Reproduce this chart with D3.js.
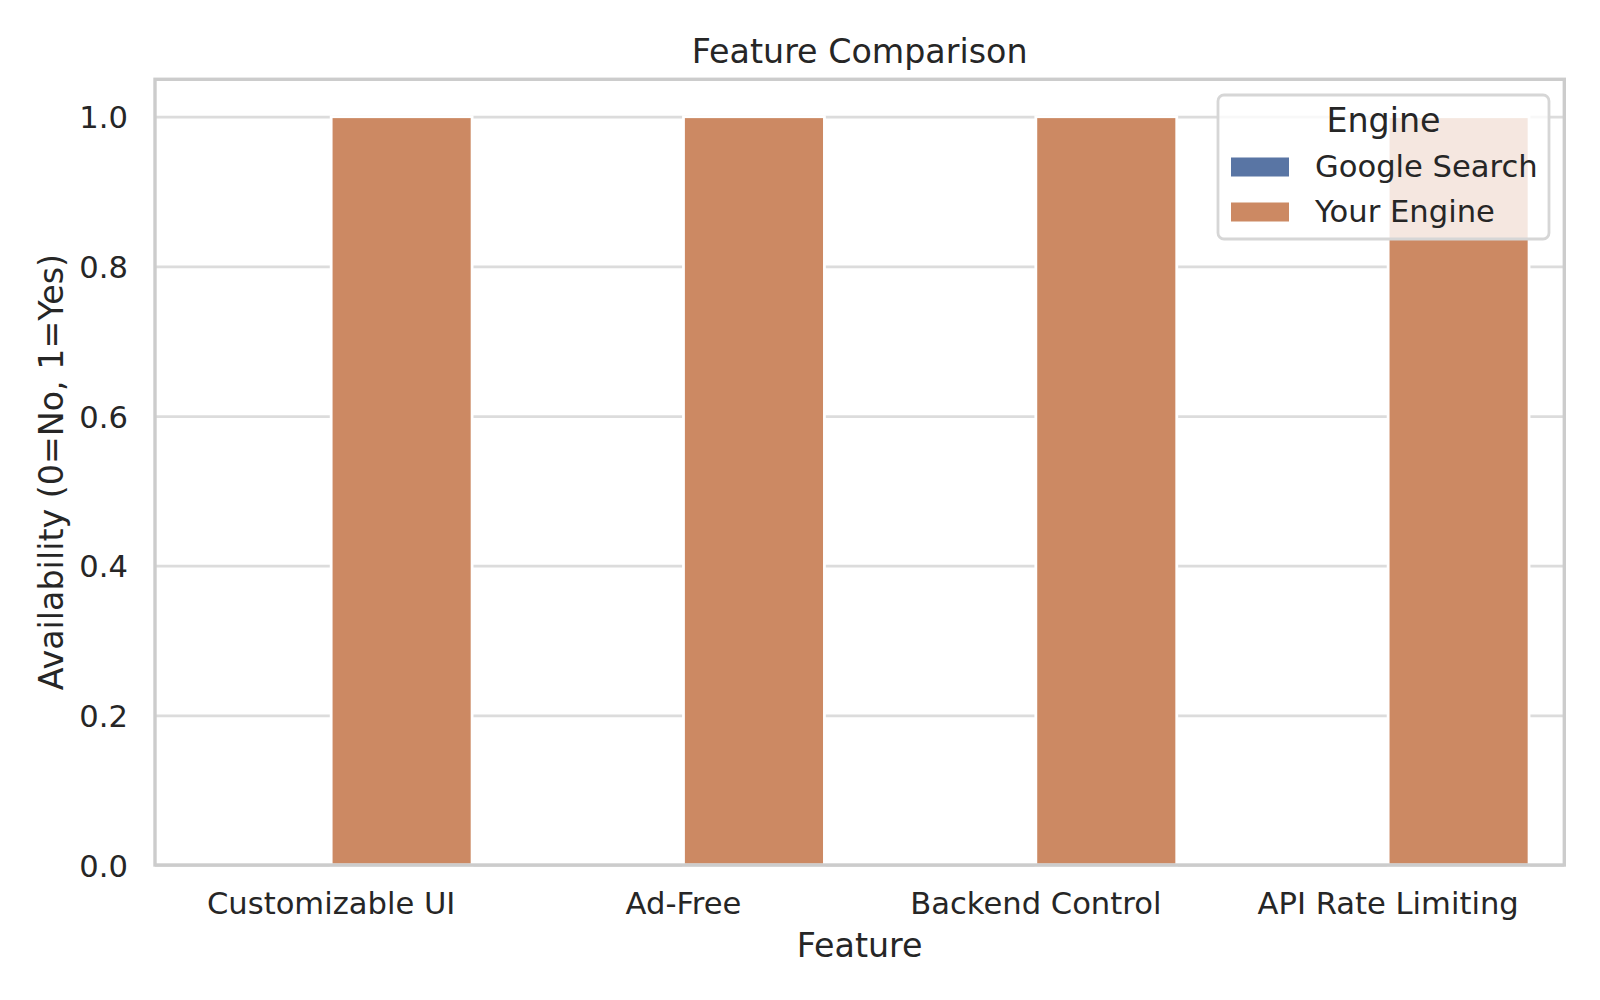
<!DOCTYPE html>
<html>
<head>
<meta charset="utf-8">
<script src="https://cdn.jsdelivr.net/npm/d3@7"></script>
<style>
  html, body { margin: 0; padding: 0; background: #fff; }
  svg { display: block; font-family: "DejaVu Sans", sans-serif; }
</style>
</head>
<body>
<svg id="chart"></svg>
<script>
const features = ['Customizable UI', 'Ad-Free', 'Backend Control', 'API Rate Limiting'];
const engines = ['Google Search', 'Your Engine'];
const googleValues = [0, 0, 0, 0];
const yourValues = [1, 1, 1, 1];
const yTicks = [0, 0.2, 0.4, 0.6, 0.8, 1.0];
const engineColors = ['#5975a4', '#cc8963'];

const width = 1600;
const height = 1000;
const margin = {top: 79.3, right: 1600 - 1564.3, bottom: 1000 - 865, left: 155};
const textColor = '#262626';

const rows = features.map((f, i) => ({
    feature: f,
    values: [googleValues[i], yourValues[i]]
}));

const svg = d3.select('#chart')
    .attr('width', width)
    .attr('height', height);

const x = d3.scaleBand()
    .domain(features)
    .range([margin.left, width - margin.right])
    .paddingInner(0)
    .paddingOuter(0);

const hue = d3.scaleBand()
    .domain(engines)
    .range([x.bandwidth() * 0.1, x.bandwidth() * 0.9]);

const y = d3.scaleLinear()
    .domain([0, 1.05])
    .range([height - margin.bottom, margin.top]);

// grid lines
const grid = svg.append('g')
    .attr('transform', `translate(${margin.left},0)`)
    .call(d3.axisLeft(y).tickValues(yTicks).tickSize(-(width - margin.left - margin.right)).tickFormat(''));
grid.select('.domain').remove();
grid.selectAll('line')
    .attr('stroke', '#dcdcdc')
    .attr('stroke-width', 2.8);

// bars
const group = svg.append('g')
    .selectAll('g')
    .data(rows)
    .join('g')
    .attr('transform', d => `translate(${x(d.feature)},0)`);

group.selectAll('rect')
    .data(d => d.values.map((v, i) => ({engine: engines[i], value: v, idx: i})))
    .join('rect')
    .attr('x', d => hue(d.engine))
    .attr('width', hue.bandwidth())
    .attr('y', d => y(d.value))
    .attr('height', d => y(0) - y(d.value))
    .attr('fill', d => engineColors[d.idx])
    .attr('stroke', d => d.value > 0 ? '#fff' : 'none')
    .attr('stroke-width', 2.8);

// spines
svg.append('rect')
    .attr('x', margin.left)
    .attr('y', margin.top)
    .attr('width', width - margin.left - margin.right)
    .attr('height', height - margin.top - margin.bottom)
    .attr('fill', 'none')
    .attr('stroke', '#cccccc')
    .attr('stroke-width', 3.4);

// y tick labels
const yAxis = svg.append('g')
    .attr('transform', `translate(${margin.left},0)`)
    .call(d3.axisLeft(y).tickValues(yTicks).tickSize(0).tickPadding(27).tickFormat(d3.format('.1f')));
yAxis.select('.domain').remove();
yAxis.selectAll('text')
    .attr('font-size', 30.6)
    .attr('font-family', '"DejaVu Sans", sans-serif')
    .attr('fill', textColor)
    .attr('dy', 11)
    .attr('x', -27);

// x tick labels
const xAxis = svg.append('g')
    .attr('transform', `translate(0,${height - margin.bottom})`)
    .call(d3.axisBottom(x).tickSize(0).tickPadding(0));
xAxis.select('.domain').remove();
xAxis.selectAll('text')
    .attr('font-size', 30.6)
    .attr('font-family', '"DejaVu Sans", sans-serif')
    .attr('fill', textColor)
    .attr('dy', 0)
    .attr('y', 49);

// title and axis labels
svg.append('text')
    .attr('x', (margin.left + width - margin.right) / 2)
    .attr('y', 62.5)
    .attr('text-anchor', 'middle')
    .attr('font-size', 33.3)
    .attr('fill', textColor)
    .text('Feature Comparison');

svg.append('text')
    .attr('x', (margin.left + width - margin.right) / 2)
    .attr('y', 956.5)
    .attr('text-anchor', 'middle')
    .attr('font-size', 33.3)
    .attr('fill', textColor)
    .text('Feature');

svg.append('text')
    .attr('transform', `translate(63,${(margin.top + height - margin.bottom) / 2}) rotate(-90)`)
    .attr('text-anchor', 'middle')
    .attr('font-size', 33.3)
    .attr('fill', textColor)
    .text('Availability (0=No, 1=Yes)');

// legend
const legend = svg.append('g');
legend.append('rect')
    .attr('x', 1218)
    .attr('y', 95)
    .attr('width', 331)
    .attr('height', 144)
    .attr('rx', 6)
    .attr('fill', '#fff')
    .attr('fill-opacity', 0.8)
    .attr('stroke', '#d6d6d6')
    .attr('stroke-width', 2.8);

legend.append('text')
    .attr('x', 1383.5)
    .attr('y', 132.3)
    .attr('text-anchor', 'middle')
    .attr('font-size', 33.3)
    .attr('fill', textColor)
    .text('Engine');

const item = legend.selectAll('g.item')
    .data(engines)
    .join('g')
    .attr('class', 'item')
    .attr('transform', (d, i) => `translate(0,${i * 45})`);

item.append('rect')
    .attr('x', 1231)
    .attr('y', 157.5)
    .attr('width', 58)
    .attr('height', 19)
    .attr('fill', (d, i) => engineColors[i]);

item.append('text')
    .attr('x', 1315)
    .attr('y', 176.5)
    .attr('font-size', 30.6)
    .attr('fill', textColor)
    .text(d => d);
</script>
</body>
</html>
